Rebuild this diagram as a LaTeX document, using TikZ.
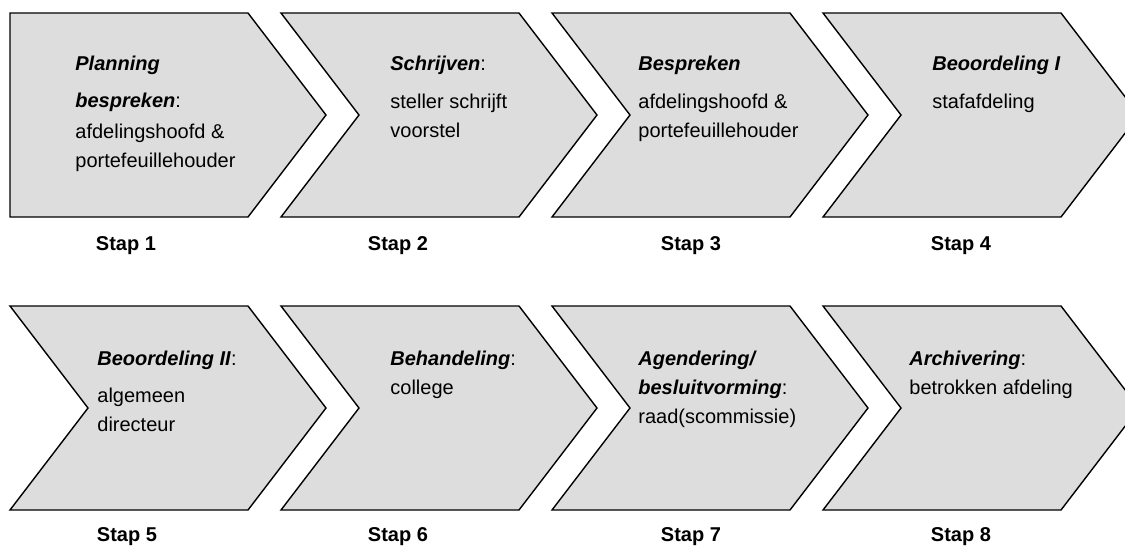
\documentclass[tikz,border=0pt]{standalone}
\usepackage{fontspec}
\setmainfont{Liberation Sans}
\usepackage{tikz}
\definecolor{chevgray}{HTML}{DDDDDD}
\newcommand{\steptitle}[1]{\textbf{\textit{#1}}}

\begin{document}
\begin{tikzpicture}[
    x=0.5pt, y=-0.5pt,
    chevline/.style={draw=black, line width=0.7pt, fill=chevgray, line join=miter},
    flatchev/.pic={\path [chevline] (0,0) -- (238,0) -- (316,102) -- (238,204) -- (0,204) -- cycle;},
    notchchev/.pic={\path [chevline] (0,0) -- (238,0) -- (316,102) -- (238,204) -- (0,204) -- (78,102) -- cycle;},
    desc/.style={anchor=north west, align=left, inner sep=0pt, font=\fontsize{10}{14.5}\selectfont},
    stap/.style={anchor=base, inner sep=0pt, font=\fontsize{10}{12}\selectfont\bfseries}
]
    \useasboundingbox (0,0) rectangle (1125,548);

    % top row
    \pic at (10,13) {flatchev};
    \pic at (281,13) {notchchev};
    \pic at (552,13) {notchchev};
    \pic at (823,13) {notchchev};

    \node [desc] (t1) at (75,49.7) {\strut\steptitle{Planning}\\[4pt]\steptitle{bespreken}:\\[1pt]afdelingshoofd \&\\portefeuillehouder};
    \node [desc] (t2) at (390,49.7) {\strut\steptitle{Schrijven}:\\[4.5pt]steller schrijft\\voorstel};
    \node [desc] (t3) at (638,49.7) {\strut\steptitle{Bespreken}\\[4.5pt]afdelingshoofd \&\\portefeuillehouder};
    \node [desc] (t4) at (932,49.7) {\strut\steptitle{Beoordeling I}\\[4.5pt]stafafdeling};

    \node [stap] (s1) at (126,250) {Stap 1};
    \node [stap] (s2) at (398,250) {Stap 2};
    \node [stap] (s3) at (691,250) {Stap 3};
    \node [stap] (s4) at (961,250) {Stap 4};

    % bottom row
    \pic at (10,306) {notchchev};
    \pic at (281,306) {notchchev};
    \pic at (552,306) {notchchev};
    \pic at (823,306) {notchchev};

    \node [desc] (t5) at (97,344.7) {\strut\steptitle{Beoordeling II}:\\[4pt]algemeen\\directeur};
    \node [desc] (t6) at (390,344.7) {\strut\steptitle{Behandeling}:\\college};
    \node [desc] (t7) at (638,344.7) {\strut\steptitle{Agendering/}\\\steptitle{besluitvorming}:\\raad(scommissie)};
    \node [desc] (t8) at (909,344.7) {\strut\steptitle{Archivering}:\\betrokken afdeling};

    \node [stap] (s5) at (127,541) {Stap 5};
    \node [stap] (s6) at (398,541) {Stap 6};
    \node [stap] (s7) at (691,541) {Stap 7};
    \node [stap] (s8) at (961,541) {Stap 8};
\end{tikzpicture}
\end{document}
